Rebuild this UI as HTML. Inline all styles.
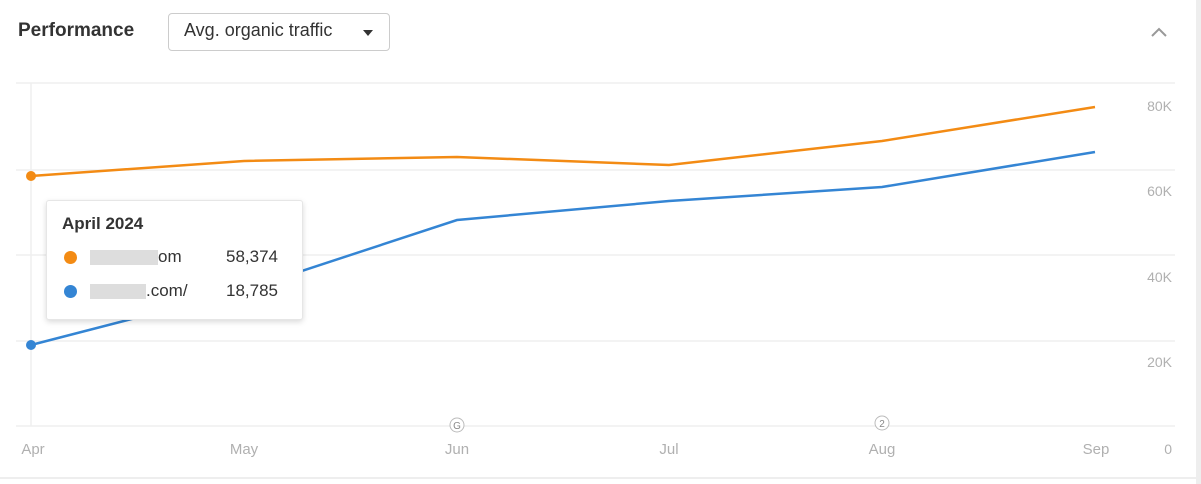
<!DOCTYPE html>
<html><head><style>
body{margin:0;width:1201px;height:484px;background:#fff;font-family:"Liberation Sans",sans-serif;overflow:hidden;position:relative}
.t{position:absolute}
</style></head><body>
<div class="t" style="left:18px;top:20px;font-size:19px;font-weight:bold;color:#333">Performance</div>
<div class="t" style="left:168px;top:13px;width:222px;height:38px;border:1px solid #ccc;border-radius:4px;box-sizing:border-box"></div>
<div class="t" style="left:184px;top:20px;font-size:18px;color:#333">Avg. organic traffic</div>
<svg class="t" style="left:0;top:0" width="1201" height="484">
<rect x="1196" y="0" width="5" height="484" fill="#eee"/>
<line x1="0" y1="478" x2="1196" y2="478" stroke="#eee" stroke-width="2"/>
<path d="M363 30 L373 30 L368 36Z" fill="#333"/>
<path d="M1152 36 L1159 29 L1166 36" stroke="#999" stroke-width="2" fill="none"/>
<g stroke="#efefef" stroke-width="1.5">
<line x1="16" y1="83" x2="1175" y2="83"/>
<line x1="16" y1="170" x2="1175" y2="170"/>
<line x1="16" y1="255" x2="1175" y2="255"/>
<line x1="16" y1="341" x2="1175" y2="341"/>
<line x1="16" y1="426" x2="1175" y2="426"/>
<line x1="31" y1="83" x2="31" y2="426"/>
</g>
<polyline points="31,176 244,161 457,157 669,165 882,141 1095,107" fill="none" stroke="#f38b14" stroke-width="2.5"/>
<polyline points="31,345 244,290 457,220 669,201 882,187 1095,152" fill="none" stroke="#3485d4" stroke-width="2.5"/>
<circle cx="31" cy="176" r="5" fill="#f38b14"/>
<circle cx="31" cy="345" r="5" fill="#3485d4"/>
<circle cx="457" cy="425" r="7" fill="#fff" stroke="#bbb"/>
<text x="457" y="429" font-size="10" fill="#888" text-anchor="middle">G</text>
<circle cx="882" cy="423" r="7" fill="#fff" stroke="#bbb"/>
<text x="882" y="427" font-size="10" fill="#888" text-anchor="middle">2</text>
<g font-size="14" fill="#b0b0b0" text-anchor="end">
<text x="1172" y="111">80K</text><text x="1172" y="196">60K</text><text x="1172" y="282">40K</text><text x="1172" y="367">20K</text><text x="1172" y="454">0</text>
</g>
<g font-size="15" fill="#b0b0b0" text-anchor="middle">
<text x="33" y="454">Apr</text><text x="244" y="454">May</text><text x="457" y="454">Jun</text><text x="669" y="454">Jul</text><text x="882" y="454">Aug</text><text x="1096" y="454">Sep</text>
</g>
</svg>
<div class="t" style="left:46px;top:200px;width:255px;height:118px;background:#fff;border:1px solid #e6e6e6;border-radius:3px;box-shadow:0 2px 6px rgba(0,0,0,0.15)"></div>
<div class="t" style="left:62px;top:214px;font-size:17px;font-weight:bold;color:#333">April 2024</div>
<div class="t" style="left:64px;top:251px;width:13px;height:13px;border-radius:50%;background:#f38b14"></div>
<div class="t" style="left:64px;top:285px;width:13px;height:13px;border-radius:50%;background:#3485d4"></div>
<div class="t" style="left:90px;top:250px;width:68px;height:15px;background:#ddd"></div>
<div class="t" style="left:158px;top:247px;font-size:17px;color:#333">om</div>
<div class="t" style="left:90px;top:284px;width:56px;height:15px;background:#ddd"></div>
<div class="t" style="left:146px;top:281px;font-size:17px;color:#333">.com/</div>
<div class="t" style="left:226px;top:247px;font-size:17px;color:#333">58,374</div>
<div class="t" style="left:226px;top:281px;font-size:17px;color:#333">18,785</div>
</body></html>
